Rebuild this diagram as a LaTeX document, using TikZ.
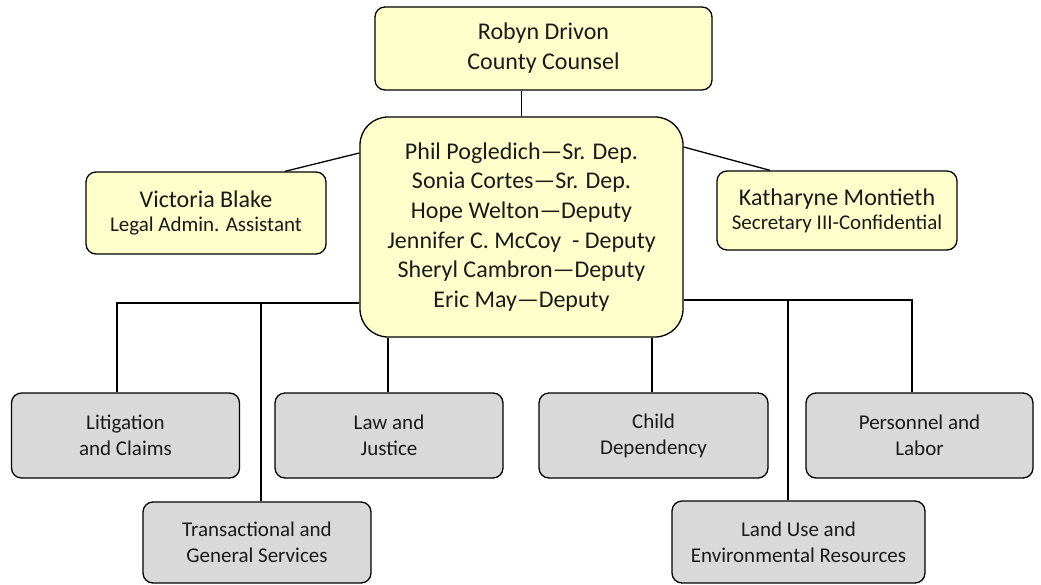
\documentclass[tikz,border=0pt]{standalone}
\usepackage{fontspec}
\setmainfont{Carlito}
\usetikzlibrary{calc}
\definecolor{pale}{HTML}{FFFFCC}
\definecolor{grayfill}{HTML}{D9D9D9}
\definecolor{ink}{HTML}{1A1A1A}
\begin{document}
\begin{tikzpicture}[x=1pt,y=-1pt,
  box/.style={draw=black, line width=1.3pt, rounded corners=10pt, align=center,
    inner sep=0pt, text=ink},
  person/.style={box, fill=pale},
  unit/.style={box, fill=grayfill, font=\fontsize{21}{26}\selectfont},
  link/.style={line width=1.3pt}]
\useasboundingbox (0,0) rectangle (1041,585);

% leadership
\node[person, minimum width=337pt, minimum height=83pt,
  font=\fontsize{24}{30}\selectfont] (top) at (543.5,48.5)
  {Robyn Drivon\\County Counsel};
\node[person, rounded corners=28pt, minimum width=323pt, minimum height=220pt,
  font=\fontsize{24}{29.6}\selectfont] (mid) at (521.5,227)
  {Phil Pogledich—Sr. Dep.\\Sonia Cortes—Sr. Dep.\\Hope Welton—Deputy\\
   Jennifer C. McCoy\ \ - Deputy\\Sheryl Cambron—Deputy\\Eric May—Deputy};
\node[person, minimum width=240pt, minimum height=82pt,
  font=\fontsize{21}{24}\selectfont] (vic) at (206,213)
  {\fontsize{24}{24}\selectfont Victoria Blake\\
   \fontsize{21}{24}\selectfont Legal Admin. Assistant};
\node[person, minimum width=240pt, minimum height=79pt,
  font=\fontsize{21}{24}\selectfont] (kat) at (837,210.5)
  {\fontsize{24}{24}\selectfont Katharyne Montieth\\
   \fontsize{21}{24}\selectfont Secretary III-Confidential};

% practice units
\node[unit, minimum width=228pt, minimum height=85pt] (lit) at (125.5,435.5)
  {Litigation\\and Claims};
\node[unit, minimum width=228pt, minimum height=85pt] (law) at (389,435.5)
  {Law and\\Justice};
\node[unit, minimum width=229pt, minimum height=85pt] (child) at (653.5,435.5)
  {Child\\Dependency};
\node[unit, minimum width=227pt, minimum height=85pt] (pers) at (919.5,435.5)
  {Personnel and\\Labor};
\node[unit, minimum width=228pt, minimum height=81pt] (trans) at (257,542.5)
  {Transactional and\\General Services};
\node[unit, minimum width=253pt, minimum height=82pt] (land) at (798.5,542)
  {Land Use and\\Environmental Resources};

% bus points
\coordinate (busL) at (117,303);
\coordinate (dropT) at (261,303);
\coordinate (busR) at (912,300);
\coordinate (dropU) at (788,300);

% connectors
\draw[link] (top.south -| mid.north) -- (mid.north);
\draw[link] ($(vic.north)+(79,0)$) -- ($(mid.west)+(0,-74)$);
\draw[link] ($(mid.east)+(0,-80)$) -- ($(kat.north)+(-67,0)$);
\draw[link] (mid.west |- busL) -- (busL) -- (busL |- lit.north);
\draw[link] (dropT) -- (dropT |- trans.north);
\draw[link] (mid.east |- busR) -- (busR) -- (busR |- pers.north);
\draw[link] (dropU) -- (dropU |- land.north);
\draw[link] ($(mid.south)+(-133.5,0)$) -- ($(law.north)+(-1,0)$);
\draw[link] ($(mid.south)+(130.5,0)$) -- ($(child.north)+(-1.5,0)$);
\end{tikzpicture}
\end{document}
